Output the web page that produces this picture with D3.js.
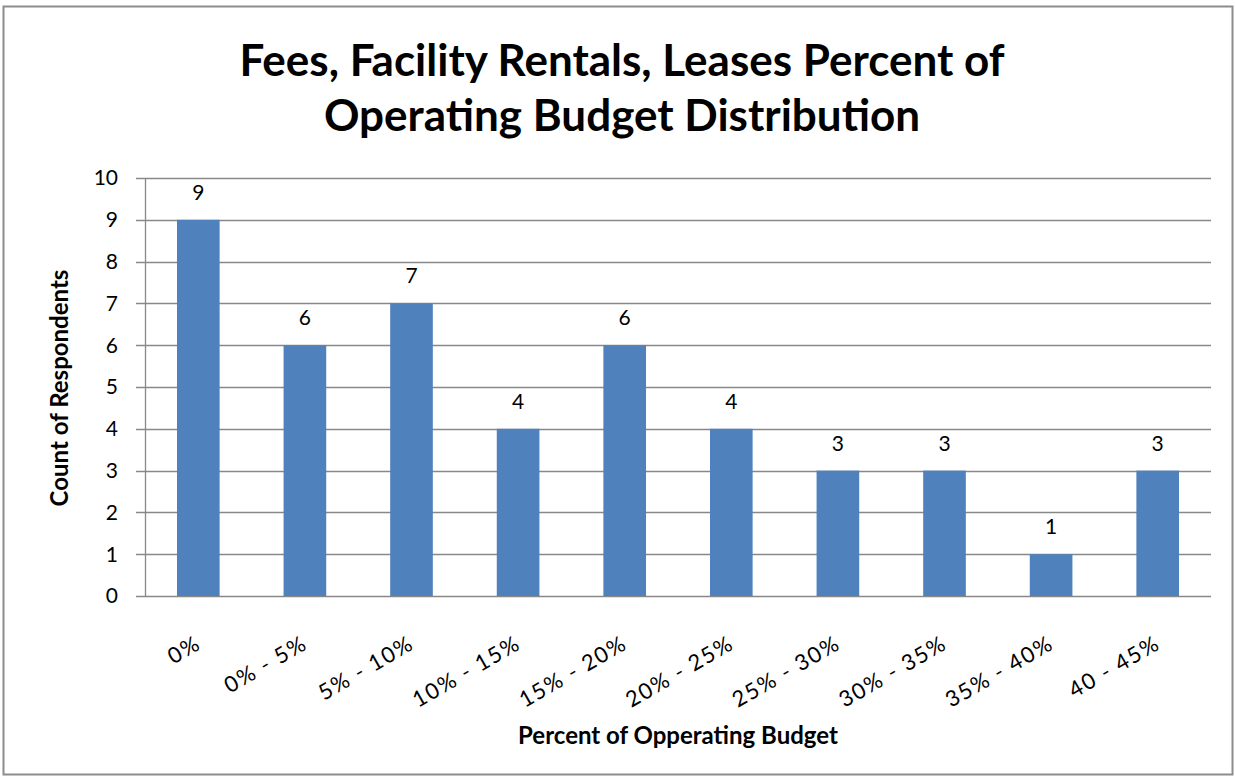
<!DOCTYPE html>
<html>
<head>
<meta charset="utf-8">
<script src="https://cdn.jsdelivr.net/npm/d3@7"></script>
<style>
  body { margin: 0; background: #fff; }
  svg text { font-family: Lato, "Open Sans", sans-serif; fill: #000; }
</style>
</head>
<body>
<div id="chart"></div>
<script>
// Chart data
const categories = ["0%", "0% - 5%", "5% - 10%", "10% - 15%", "15% - 20%",
    "20% - 25%", "25% - 30%", "30% - 35%", "35% - 40%", "40 - 45%"];
const counts = [9, 6, 7, 4, 6, 4, 3, 3, 1, 3];
const yTicks = [0, 1, 2, 3, 4, 5, 6, 7, 8, 9, 10];
const titleLines = ["Fees, Facility Rentals, Leases Percent of", "Operating Budget Distribution"];

const W = 1235, H = 778;
const margin = { top: 178, right: 24, bottom: 182, left: 145 },
    width = W - margin.left - margin.right,
    height = H - margin.top - margin.bottom;

const svg = d3.select("#chart")
    .append("svg")
    .attr("width", W)
    .attr("height", H);

// outer frame
svg.append("rect")
    .attr("x", 3.5).attr("y", 6.5)
    .attr("width", W - 6).attr("height", H - 10)
    .attr("fill", "#fff")
    .attr("stroke", "#8c8c8c")
    .attr("stroke-width", 2);

// title
svg.selectAll(".title")
    .data(titleLines)
    .enter().append("text")
    .attr("class", "title")
    .attr("x", 622)
    .attr("y", (d, i) => 76 + i * 55)
    .attr("text-anchor", "middle")
    .style("font-size", "44px")
    .style("font-weight", "bold")
    .text(d => d);

const g = svg.append("g")
    .attr("transform", `translate(${margin.left}, ${margin.top})`);

const x = d3.scaleBand().domain(categories).range([0, width]).paddingInner(0.6).paddingOuter(0.3);
const y = d3.scaleLinear().domain([0, 10]).range([height, 0]);

// gridlines
g.selectAll(".grid")
    .data(yTicks)
    .enter().append("line")
    .attr("class", "grid")
    .attr("x1", -9)
    .attr("x2", width)
    .attr("y1", d => Math.round(y(d)) + 0.5)
    .attr("y2", d => Math.round(y(d)) + 0.5)
    .attr("stroke", "#888")
    .attr("stroke-width", 1.3);

// y axis line
g.append("line")
    .attr("x1", 0.5).attr("x2", 0.5)
    .attr("y1", 0).attr("y2", height)
    .attr("stroke", "#888")
    .attr("stroke-width", 1.3);

// y tick labels
g.selectAll(".ytick")
    .data(yTicks)
    .enter().append("text")
    .attr("class", "ytick")
    .attr("x", -27)
    .attr("y", d => y(d))
    .attr("dy", "0.35em")
    .attr("text-anchor", "end")
    .style("font-size", "21px")
    .text(d => d);

// bars
g.selectAll(".bar")
    .data(counts)
    .enter().append("rect")
    .attr("class", "bar")
    .attr("x", (d, i) => x(categories[i]))
    .attr("y", d => y(d))
    .attr("width", x.bandwidth())
    .attr("height", d => height - y(d))
    .attr("fill", "#4f81bd");

// value labels
g.selectAll(".val")
    .data(counts)
    .enter().append("text")
    .attr("class", "val")
    .attr("x", (d, i) => x(categories[i]) + x.bandwidth() / 2)
    .attr("y", d => y(d) - 20)
    .attr("text-anchor", "middle")
    .style("font-size", "21px")
    .text(d => d);

// x labels, rotated
g.selectAll(".xlab")
    .data(categories)
    .enter().append("text")
    .attr("class", "xlab")
    .attr("transform", d => `translate(${x(d) + x.bandwidth() / 2 + 4}, ${height + 52}) rotate(-30)`)
    .attr("text-anchor", "end")
    .style("font-size", "22px")
    .style("letter-spacing", "1.6px")
    .text(d => d);

// axis titles
svg.append("text")
    .attr("x", 678)
    .attr("y", 744)
    .attr("text-anchor", "middle")
    .style("font-size", "24px")
    .style("font-weight", "bold")
    .text("Percent of Opperating Budget");

svg.append("text")
    .attr("transform", "translate(68, 388) rotate(-90)")
    .attr("text-anchor", "middle")
    .style("font-size", "24px")
    .style("font-weight", "bold")
    .text("Count of Respondents");
</script>
</body>
</html>
